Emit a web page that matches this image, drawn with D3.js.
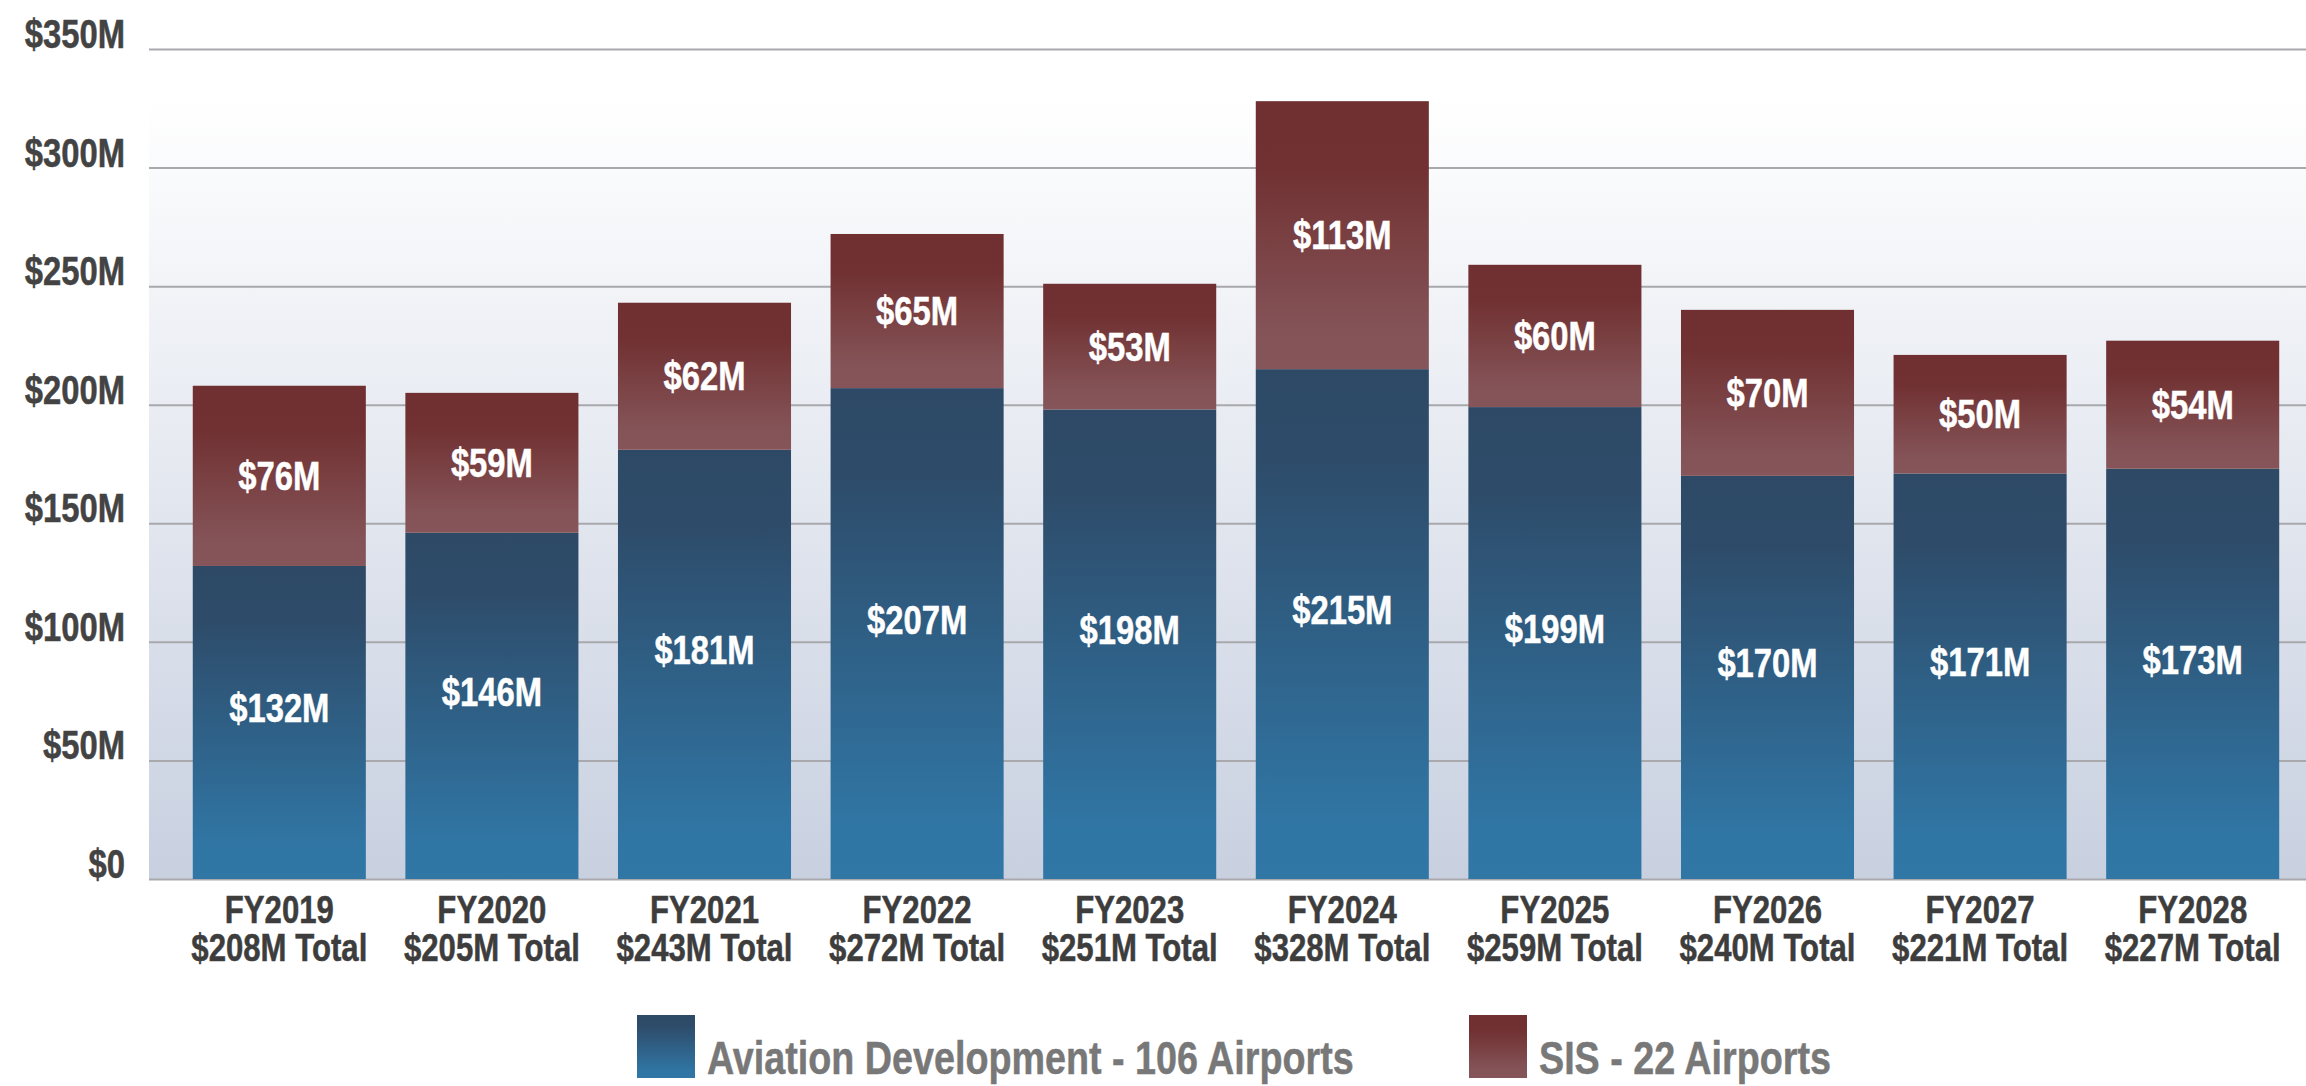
<!DOCTYPE html>
<html>
<head>
<meta charset="utf-8">
<script src="https://cdn.jsdelivr.net/npm/d3@7"></script>
<style>
    body { margin: 0; background: #ffffff; }
    text { font-family: "Liberation Sans", Arial, sans-serif; font-weight: bold; }
</style>
</head>
<body>
<div id="chart"></div>
<script>
let years = ["FY2019", "FY2020", "FY2021", "FY2022", "FY2023", "FY2024", "FY2025", "FY2026", "FY2027", "FY2028"]
let aviationDev = [132, 146, 181, 207, 198, 215, 199, 170, 171, 173]
let sis = [76, 59, 62, 65, 53, 113, 60, 70, 50, 54]
let totals = [208, 205, 243, 272, 251, 328, 259, 240, 221, 227]
let yTicks = [0, 50, 100, 150, 200, 250, 300, 350]
let legendNames = ["Aviation Development - 106 Airports", "SIS - 22 Airports"]

let width = 2306, height = 1086
let plotLeft = 149, plotRight = 2306
// squeeze factor so the bold sans looks like a condensed face
let narrow = 0.82

let svg = d3.select("#chart")
    .append("svg")
        .attr("width", width)
        .attr("height", height)

let defs = svg.append("defs")

function addGradient(id, stops) {
    let g = defs.append("linearGradient")
        .attr("id", id)
        .attr("x1", 0).attr("y1", 0)
        .attr("x2", 0).attr("y2", 1)
    stops.forEach(s => {
        g.append("stop").attr("offset", s[0]).attr("stop-color", s[1])
    })
}
addGradient("bgGrad", [["0%", "#ffffff"], ["6%", "#ffffff"], ["100%", "#c8d0e0"]])
addGradient("blueGrad", [["0%", "#2d4966"], ["18%", "#2e4c6a"], ["90%", "#3076a5"], ["100%", "#3077a6"]])
addGradient("redGrad", [["0%", "#702f30"], ["25%", "#713132"], ["85%", "#845357"], ["100%", "#855559"]])

function narrowText(parent, x, y, str, size, color, anchor) {
    return parent.append("text")
        .attr("transform", "translate(" + x + "," + y + ") scale(" + narrow + ",1)")
        .attr("text-anchor", anchor)
        .style("font-size", size + "px")
        .style("fill", color)
        .style("stroke", color)
        .style("stroke-width", 0.5)
        .text(str)
}

let xScale = d3.scaleBand().domain(years).range([173, 2299]).paddingInner(0.186).paddingOuter(0.093)
let yScale = d3.scaleLinear().domain([0, 350]).range([879, 49])

// plot background
svg.append("rect")
    .attr("x", plotLeft)
    .attr("y", yScale(350))
    .attr("width", plotRight - plotLeft)
    .attr("height", yScale(0) - yScale(350))
    .style("fill", "url(#bgGrad)")

// gridlines
let yAxis = svg.append("g")
    .attr("transform", "translate(" + plotLeft + ",0)")
    .call(d3.axisLeft(yScale).tickValues(yTicks).tickSize(-(plotRight - plotLeft)).tickFormat(""))
yAxis.select(".domain").remove()
yAxis.selectAll(".tick line").style("stroke", "#a9a9ad").style("stroke-width", 2)

// y labels
let yLabelG = svg.append("g")
yTicks.forEach(t => {
    narrowText(yLabelG, 125, yScale(t) - 1, "$" + t + (t === 0 ? "" : "M"), 40, "#434343", "end")
})

// stacked bars
svg.append("g").selectAll("rect")
    .data(years)
    .enter()
    .append("rect")
    .attr("x", d => xScale(d))
    .attr("width", xScale.bandwidth())
    .attr("y", (d, i) => yScale(aviationDev[i]))
    .attr("height", (d, i) => yScale(0) - yScale(aviationDev[i]))
    .style("fill", "url(#blueGrad)")

svg.append("g").selectAll("rect")
    .data(years)
    .enter()
    .append("rect")
    .attr("x", d => xScale(d))
    .attr("width", xScale.bandwidth())
    .attr("y", (d, i) => yScale(aviationDev[i] + sis[i]))
    .attr("height", (d, i) => yScale(aviationDev[i]) - yScale(aviationDev[i] + sis[i]))
    .style("fill", "url(#redGrad)")

// value labels and x labels
let labelG = svg.append("g")
for (let i = 0; i < years.length; i++) {
    let cx = xScale(years[i]) + xScale.bandwidth() / 2
    narrowText(labelG, cx, yScale(aviationDev[i] / 2), "$" + aviationDev[i] + "M", 40, "#ffffff", "middle")
    narrowText(labelG, cx, yScale(aviationDev[i] + sis[i] / 2) + 14, "$" + sis[i] + "M", 40, "#ffffff", "middle")
    narrowText(labelG, cx, 923, years[i], 38, "#3d3d3d", "middle")
    narrowText(labelG, cx, 961, "$" + totals[i] + "M Total", 38, "#3d3d3d", "middle")
}

// legend
let legendX = [637, 1469]
let legendFills = ["url(#blueGrad)", "url(#redGrad)"]
for (let i = 0; i < legendNames.length; i++) {
    svg.append("rect")
        .attr("x", legendX[i])
        .attr("y", 1015)
        .attr("width", 58)
        .attr("height", 63)
        .style("fill", legendFills[i])
    narrowText(svg, legendX[i] + 70, 1074, legendNames[i], 46, "#787878", "start")
}
</script>
</body>
</html>
